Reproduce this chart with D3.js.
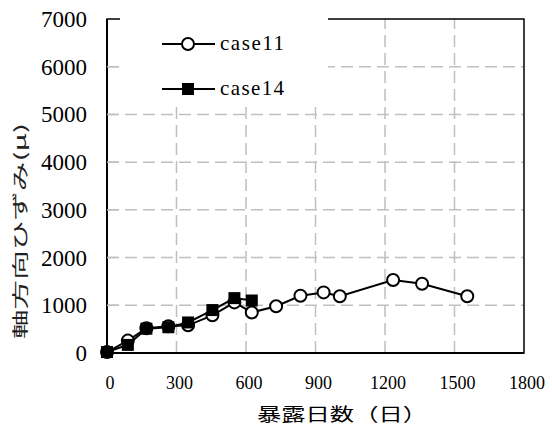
<!doctype html>
<html lang="ja">
<head>
<meta charset="UTF-8">
<title>chart</title>
<style>
  body { margin: 0; background: #fff; }
</style>
</head>
<body>
<div class="container"></div>
<script src="https://d3js.org/d3.v7.min.js"></script>
<script>
  const xTicks = [0, 300, 600, 900, 1200, 1500, 1800];
  const yTicks = [0, 1000, 2000, 3000, 4000, 5000, 6000, 7000];

  const case11Days = [0, 90, 170, 265, 350, 455, 550, 625, 730, 835, 935, 1005, 1235, 1360, 1555];
  const case11Vals = [20, 260, 520, 560, 580, 790, 1060, 850, 980, 1200, 1270, 1190, 1530, 1450, 1190];

  const case14Days = [0, 90, 170, 265, 350, 455, 550, 625];
  const case14Vals = [20, 170, 510, 540, 640, 900, 1150, 1100];

  const SERIF = 'Liberation Serif, Times New Roman, DejaVu Serif, serif';
  const W = 552, H = 432;
  const LEFT = 107, RIGHT = 524, TOP = 19, BOTTOM = 353;

  const svg = d3.select('.container').append('svg')
    .attr('width', W).attr('height', H);

  const x = d3.scaleLinear().domain([0, 1800]).range([LEFT, RIGHT]);
  const y = d3.scaleLinear().domain([0, 7000]).range([BOTTOM, TOP]);

  // grid
  const grid = svg.append('g')
    .attr('stroke', '#bfbfbf').attr('stroke-width', 1.5)
    .attr('stroke-dasharray', '12,6');
  grid.selectAll('.gy').data(yTicks.slice(1, -1)).enter().append('line')
    .attr('x1', LEFT).attr('x2', RIGHT)
    .attr('y1', d => y(d)).attr('y2', d => y(d));
  grid.selectAll('.gx').data(xTicks.slice(1, -1)).enter().append('line')
    .attr('y1', BOTTOM).attr('y2', TOP)
    .attr('x1', d => x(d)).attr('x2', d => x(d));

  // frame top/right
  svg.append('rect')
    .attr('x', LEFT).attr('y', TOP)
    .attr('width', RIGHT - LEFT).attr('height', BOTTOM - TOP)
    .attr('fill', 'none').attr('stroke', '#000').attr('stroke-width', 1.5);

  const line = d3.line().x(d => x(d[0])).y(d => y(d[1]));
  const s11 = case11Days.map((d, i) => [d, case11Vals[i]]);
  const s14 = case14Days.map((d, i) => [d, case14Vals[i]]);

  // case11
  svg.append('path').datum(s11).attr('d', line)
    .attr('fill', 'none').attr('stroke', '#000').attr('stroke-width', 2);
  svg.selectAll('.c11').data(s11).enter().append('circle')
    .attr('cx', d => x(d[0])).attr('cy', d => y(d[1])).attr('r', 6)
    .attr('fill', '#fff').attr('stroke', '#000').attr('stroke-width', 2);

  // case14
  svg.append('path').datum(s14).attr('d', line)
    .attr('fill', 'none').attr('stroke', '#000').attr('stroke-width', 2);
  svg.selectAll('.c14').data(s14).enter().append('rect')
    .attr('x', d => x(d[0]) - 6).attr('y', d => y(d[1]) - 6)
    .attr('width', 12).attr('height', 12).attr('fill', '#000');

  // legend (covers grid)
  svg.append('rect').attr('x', 120).attr('y', 14).attr('width', 208).attr('height', 91).attr('fill', '#fff');
  const leg = svg.append('g');
  const legItems = [['case11', 44, 'circle'], ['case14', 89, 'square']];
  legItems.forEach(([name, ly, shape]) => {
    leg.append('line').attr('x1', 162).attr('x2', 215).attr('y1', ly).attr('y2', ly)
      .attr('stroke', '#000').attr('stroke-width', 2);
    if (shape === 'circle') {
      leg.append('circle').attr('cx', 188).attr('cy', ly).attr('r', 6)
        .attr('fill', '#fff').attr('stroke', '#000').attr('stroke-width', 2);
    } else {
      leg.append('rect').attr('x', 182).attr('y', ly - 6).attr('width', 12).attr('height', 12).attr('fill', '#000');
    }
    leg.append('text').attr('x', 220).attr('y', ly + 6)
      .attr('font-family', SERIF).attr('font-size', 21)
      .attr('textLength', 64).attr('lengthAdjust', 'spacing')
      .text(name);
  });

  // axes lines
  svg.append('line').attr('x1', LEFT).attr('x2', LEFT).attr('y1', TOP).attr('y2', BOTTOM)
    .attr('stroke', '#000').attr('stroke-width', 2);
  svg.append('line').attr('x1', LEFT).attr('x2', RIGHT).attr('y1', BOTTOM).attr('y2', BOTTOM)
    .attr('stroke', '#000').attr('stroke-width', 2);

  // inner ticks on left axis
  svg.selectAll('.yt').data(yTicks.slice(1, -1)).enter().append('line')
    .attr('x1', LEFT).attr('x2', LEFT + 12)
    .attr('y1', d => y(d)).attr('y2', d => y(d))
    .attr('stroke', '#bfbfbf').attr('stroke-width', 1.5);

  // tick labels
  svg.selectAll('.yl').data(yTicks).enter().append('text')
    .attr('x', 87).attr('y', d => y(d)).attr('dy', '0.35em')
    .attr('text-anchor', 'end')
    .attr('font-family', SERIF).attr('font-size', 23)
    .text(d => d);
  svg.selectAll('.xl').data(xTicks).enter().append('text')
    .attr('x', d => x(d) + 3).attr('y', 389)
    .attr('text-anchor', 'middle')
    .attr('font-family', SERIF).attr('font-size', 18)
    .text(d => d);

  // axis titles
  svg.append('text').attr('x', 342).attr('y', 421).attr('text-anchor', 'middle')
    .attr('font-family', 'Noto Sans CJK JP, sans-serif').attr('font-size', 18)
    .attr('textLength', 170).attr('lengthAdjust', 'spacingAndGlyphs')
    .text('暴露日数（日）');
  svg.append('text')
    .attr('transform', 'translate(26,231) rotate(-90)')
    .attr('text-anchor', 'middle')
    .attr('font-family', 'Noto Sans CJK JP, sans-serif').attr('font-size', 16)
    .attr('fill', '#222')
    .attr('textLength', 216).attr('lengthAdjust', 'spacingAndGlyphs')
    .text('軸方向ひずみ(μ)');
</script>
</body>
</html>
